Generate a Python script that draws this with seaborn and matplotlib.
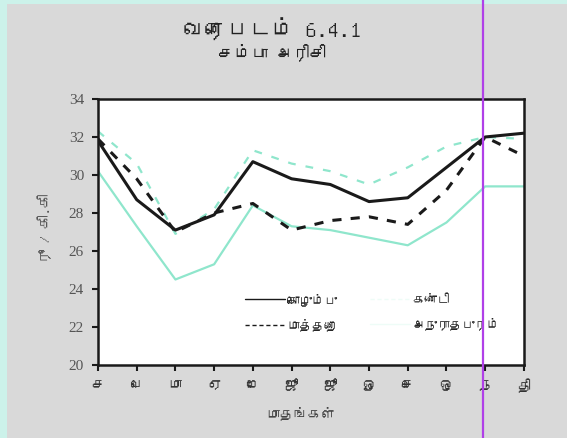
"""
Chart 6.4.1 - Samba rice, monthly retail price (Rs/kg) in four towns.
"""

import matplotlib
matplotlib.use("Agg")

import matplotlib.pyplot as plt
import seaborn as sns
import pandas as pd
from matplotlib import font_manager
from matplotlib.lines import Line2D
from matplotlib.patches import Rectangle

# ---- data ----
months = ["ச", "பெ", "மா", "ஏ", "மே", "ஜூ", "ஜூ", "ஓ", "செ", "ஒ", "ந", "தி"]

colombo      = [31.8, 28.7, 27.1, 27.9, 30.7, 29.8, 29.5, 28.6, 28.8, 30.4, 32.0, 32.2]
matale       = [31.9, 29.8, 27.0, 28.0, 28.5, 27.1, 27.6, 27.8, 27.4, 29.2, 32.0, 31.0]
kandy        = [32.3, 30.6, 26.9, 28.2, 31.3, 30.6, 30.2, 29.5, 30.4, 31.5, 32.0, 31.9]
anuradhapura = [30.2, 27.3, 24.5, 25.3, 28.4, 27.3, 27.1, 26.7, 26.3, 27.5, 29.4, 29.4]

series_names = ["கொழும்பு", "மாத்தறை", "கண்டி", "அநுராதபுரம்"]
y_ticks = [20, 22, 24, 26, 28, 30, 32, 34]

TITLE    = "வரைபடம் 6.4.1"
SUBTITLE = "சம்பா அரிசி"
X_LABEL  = "மாதங்கள்"
Y_LABEL  = "ரூ / கி.கி"

BLACK = "#1a1a1a"
TEAL  = "#8fe6cc"


def tamil_family():
    """Return the name of an installed font that has Tamil glyphs, if any."""
    try:
        from fontTools.ttLib import TTFont
    except ImportError:
        return None
    for f in font_manager.fontManager.ttflist:
        try:
            font = TTFont(f.fname, fontNumber=0, lazy=True)
            cmap = font.getBestCmap()
        except Exception:
            continue
        if cmap and 0x0B95 in cmap:
            return f.name
    return None


sns.set_theme(style="white")
tam = tamil_family()
families = ([tam] if tam else []) + ["DejaVu Sans"]
plt.rcParams["font.family"] = families

df = pd.DataFrame({
    "month": list(range(len(months))) * 4,
    "price": colombo + matale + kandy + anuradhapura,
    "town": sum([[n] * len(months) for n in series_names], []),
})

palette = {series_names[0]: BLACK, series_names[1]: BLACK,
           series_names[2]: TEAL, series_names[3]: TEAL}
dashes = {series_names[0]: "", series_names[1]: (3, 3),
          series_names[2]: (3.5, 4.5), series_names[3]: ""}
widths = {series_names[0]: 2.2, series_names[1]: 2.2,
          series_names[2]: 1.6, series_names[3]: 1.6}

fig = plt.figure(figsize=(5.67, 4.38), dpi=100, facecolor="#d9d9d9")
ax = fig.add_axes([0.1728, 0.1667, 0.924 - 0.1728, 0.774 - 0.1667])
ax.set_facecolor("white")

# draw teal lines first, black on top
for name in [series_names[3], series_names[2], series_names[1], series_names[0]]:
    sub = df[df["town"] == name]
    sns.lineplot(data=sub, x="month", y="price", ax=ax, color=palette[name],
                 linewidth=widths[name], sort=False, legend=False, label=name)
    line = ax.lines[-1]
    if dashes[name]:
        line.set_dashes(dashes[name])

ax.set_xlim(0, len(months) - 1)
ax.set_ylim(y_ticks[0], y_ticks[-1])
ax.set_xticks(range(len(months)))
ax.set_xticklabels(months, fontsize=10, color="#333333")
ax.set_yticks(y_ticks)
ax.set_yticklabels([str(v) for v in y_ticks], fontsize=11, color="#555555",
                   family=["Liberation Serif", "DejaVu Serif"])
ax.tick_params(axis="both", direction="out", length=4, width=1.5, color=BLACK,
               bottom=True, left=True, pad=6)
for side in ax.spines.values():
    side.set_color(BLACK)
    side.set_linewidth(1.8)
ax.set_xlabel("")
ax.set_ylabel("")

# legend: two columns, Colombo/Matale left, Kandy/Anuradhapura right
handles = [Line2D([], [], color=BLACK, lw=1.0),
           Line2D([], [], color=BLACK, lw=1.0, dashes=(3, 2)),
           Line2D([], [], color="#eefcf7", lw=1.0, dashes=(3, 2)),
           Line2D([], [], color="#eefcf7", lw=1.0)]
ax.legend(handles, series_names, ncol=2, frameon=False,
          loc="lower left", bbox_to_anchor=(0.33, 0.105), borderpad=0,
          fontsize=9, handlelength=3.2, handletextpad=0.2,
          columnspacing=2.6, labelspacing=1.0)

fig.text(0.48, 0.932, TITLE, ha="center", va="center", fontsize=16,
         fontweight="bold", style="italic", color="#222222")
fig.text(0.48, 0.881, SUBTITLE, ha="center", va="center", fontsize=12,
         style="italic", color="#222222")
fig.text(0.53, 0.057, X_LABEL, ha="center", va="center", fontsize=10,
         color="#444444")
fig.text(0.079, 0.48, Y_LABEL, ha="center", va="center", fontsize=10,
         rotation=90, color="#555555")

# scan frame and the stray purple marker line
fig.add_artist(Rectangle((0, 0), 0.012, 1, transform=fig.transFigure,
                         color="#ccf2ea", lw=0))
fig.add_artist(Rectangle((0, 0.992), 1, 0.008, transform=fig.transFigure,
                         color="#ccf2ea", lw=0))
fig.add_artist(Line2D([483 / 567, 483 / 567], [0, 1], transform=fig.transFigure,
                      color="#b040e8", lw=1.6))

fig.savefig("out.png", dpi=100, facecolor=fig.get_facecolor())
